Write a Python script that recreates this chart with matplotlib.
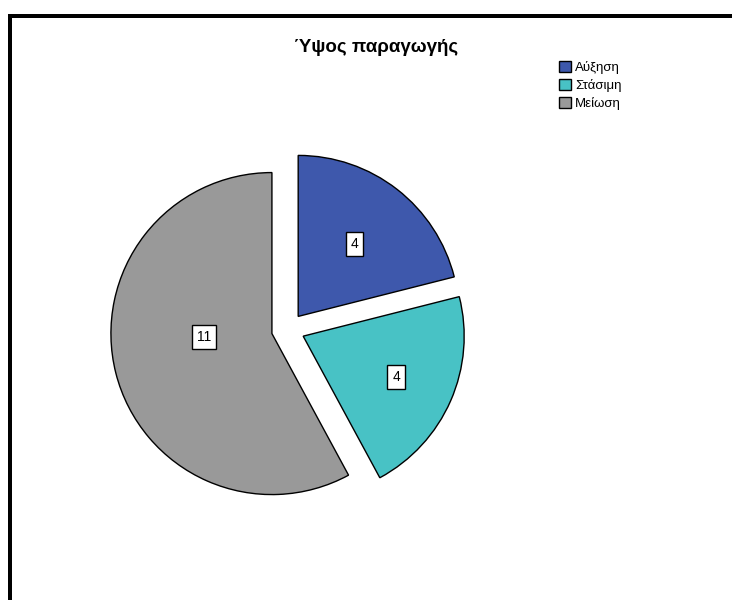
import matplotlib
matplotlib.use('Agg')
import numpy as np
import matplotlib.pyplot as plt
from matplotlib.patches import Rectangle

plt.rcParams['font.family'] = ['Liberation Sans', 'DejaVu Sans']

# data
categories = ['Αύξηση', 'Στάσιμη', 'Μείωση']
counts = [4, 4, 11]
colors = ['#3E58AC', '#48C2C5', '#999999']
title = 'Ύψος παραγωγής'

W, H = 732, 600
fig = plt.figure(figsize=(W / 100, H / 100), dpi=100)
fig.patch.set_facecolor('white')

# axes in pixel units (y up)
ax = fig.add_axes([0, 0, 1, 1])
cx, cy, r = 288, H - 329.5, 161
# explode is in data units here, ~10% of radius
wedges, _ = ax.pie(counts, colors=colors, startangle=90, counterclock=False,
                   explode=[0.103 * r] * len(counts), center=(cx, cy), radius=r,
                   wedgeprops=dict(edgecolor='black', linewidth=1.0))
ax.set_xlim(0, W)
ax.set_ylim(0, H)
ax.set_aspect('equal')
ax.axis('off')

# value labels in white boxes (radial fraction, angle tweak in degrees)
label_frac = [0.57, 0.63, 0.42]
label_turn = [0, 0, -11]
for w, n, f, t in zip(wedges, counts, label_frac, label_turn):
    mid = np.deg2rad((w.theta1 + w.theta2) / 2 + t)
    x0, y0 = w.center
    ax.text(x0 + f * r * np.cos(mid), y0 + f * r * np.sin(mid), str(n),
            ha='center', va='center', fontsize=10,
            bbox=dict(boxstyle='square,pad=0.35', facecolor='white',
                      edgecolor='black', linewidth=1.0))

fig.text(376 / W, 1 - 47 / H, title, ha='center', va='center',
         fontsize=13.5, fontweight='bold')

leg = fig.legend(wedges, categories, loc='upper left',
                 bbox_to_anchor=(559 / W, 1 - 61 / H), frameon=False,
                 fontsize=9.5, handlelength=0.9, handleheight=0.9,
                 handletextpad=0.3, labelspacing=0.38, borderpad=0,
                 borderaxespad=0)

# outer frame (top and left)
fig.add_artist(Rectangle((8 / W, 1 - 18 / H), (W - 8) / W, 4 / H,
                         transform=fig.transFigure, color='black', lw=0))
fig.add_artist(Rectangle((8 / W, 0), 4 / W, 1 - 14 / H,
                         transform=fig.transFigure, color='black', lw=0))

fig.savefig('out.png', dpi=100)
